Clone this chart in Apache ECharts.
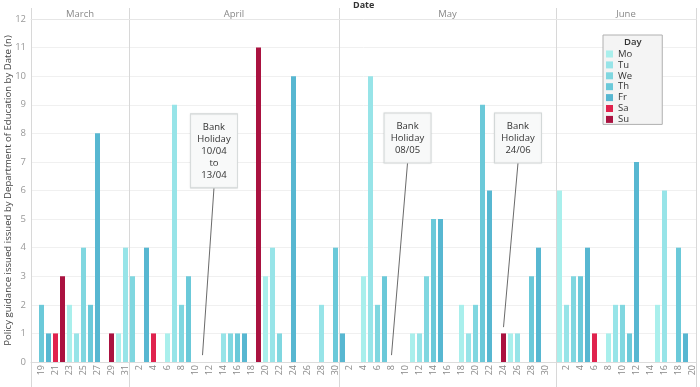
<!DOCTYPE html>
<html><head><meta charset="utf-8">
<script src="https://cdn.jsdelivr.net/npm/echarts@6/dist/echarts.min.js"></script>
<style>html,body{margin:0;padding:0;background:#fff}#c{width:700px;height:387px}</style>
</head><body><div id="c"></div>
<script>
// ---- data ----
const year = 2020;
const monthNames = ['March', 'April', 'May', 'June'];
const monthNumbers = [3, 4, 5, 6];
const monthFirstDay = [18, 1, 1, 1];
// counts per day (0 = no guidance issued)
const marchCounts = [0, 2, 1, 1, 3, 2, 1, 4, 2, 8, 0, 1, 1, 4];                       // 18..31
const aprilCounts = [3, 0, 4, 1, 0, 1, 9, 2, 3, 0, 0, 0, 0, 1, 1, 1, 1, 0, 11, 3,
                     4, 1, 0, 10, 0, 0, 0, 2, 0, 4];                                     // 1..30
const mayCounts   = [1, 0, 0, 3, 10, 2, 3, 0, 0, 0, 1, 1, 3, 5, 5, 0, 0, 2, 1, 2,
                     9, 6, 0, 1, 1, 1, 0, 3, 4, 0, 0];                                   // 1..31
const juneCounts  = [6, 2, 3, 3, 4, 1, 0, 1, 2, 2, 1, 7, 0, 0, 2, 6, 0, 4, 1, 0];     // 1..20
const dayNames = ['Mo', 'Tu', 'We', 'Th', 'Fr', 'Sa', 'Su'];
const dayColors = ['#a9efec', '#97e4e8', '#80d7e0', '#6bc9d9', '#57b7d1', '#e0234e', '#aa1240'];
const annotations = [
  { text: 'Bank\nHoliday\n10/04\nto\n13/04', date: '2020-04-11' },
  { text: 'Bank\nHoliday\n08/05', date: '2020-05-08' },
  { text: 'Bank\nHoliday\n24/06', date: '2020-05-24' }
];
// annotation placement (styling): box bottom anchor in plot units, line end height, box size
const annotationLayout = [
  { anchor: [26.14, 6.09], endY: 0.24, size: [47, 74] },
  { anchor: [53.79, 6.96], endY: 0.24, size: [47, 50] },
  { anchor: [69.57, 6.96], endY: 1.22, size: [47, 50] }
];

// ---- build ----
const allCounts = [marchCounts, aprilCounts, mayCounts, juneCounts];
const cats = [], meta = [], boundaries = [0], centers = [];
allCounts.forEach((arr, mi) => {
  arr.forEach((v, k) => {
    const d = monthFirstDay[mi] + k, m = monthNumbers[mi];
    cats.push(year + '-' + String(m).padStart(2, '0') + '-' + String(d).padStart(2, '0'));
    const wd = (new Date(Date.UTC(year, m - 1, d)).getUTCDay() + 6) % 7;
    meta.push({ m, d, wd, v });
  });
  const prev = boundaries[boundaries.length - 1];
  boundaries.push(prev + arr.length);
  centers.push(prev + arr.length / 2);
});
const N = cats.length;

const barSeries = dayNames.map((name, di) => ({
  name, type: 'bar', stack: 'day', barWidth: 5,
  itemStyle: { color: dayColors[di] },
  data: meta.map(o => (o.wd === di && o.v > 0) ? o.v : '-')
}));

const annSeries = {
  type: 'scatter', xAxisIndex: 1, yAxisIndex: 0, data: [], silent: true,
  markPoint: {
    silent: true,
    data: annotations.map((a, i) => ({
      coord: annotationLayout[i].anchor,
      symbol: 'rect',
      symbolSize: annotationLayout[i].size,
      symbolOffset: [0, '-50%'],
      itemStyle: { color: '#f8f9f9', borderColor: '#d3d8d8', borderWidth: 1, shadowColor: 'rgba(0,0,0,0.08)', shadowBlur: 2 },
      label: { show: true, position: 'inside', formatter: a.text, color: '#333', fontSize: 9.5, lineHeight: 12, fontFamily: 'Open Sans' }
    }))
  },
  markLine: {
    silent: true, symbol: ['none', 'none'],
    lineStyle: { color: '#444', width: 0.8, type: 'solid' },
    label: { show: false },
    data: annotations.map((a, i) => {
      const idx = cats.indexOf(a.date) + 0.5;
      return [{ coord: [idx, annotationLayout[i].endY] }, { coord: annotationLayout[i].anchor }];
    })
  }
};

const chart = echarts.init(document.getElementById('c'), null, { renderer: 'canvas' });
chart.setOption({
  animation: false,
  textStyle: { fontFamily: 'Open Sans' },
  title: [
    { text: 'Date', left: 353, top: 1, padding: 0, textStyle: { fontSize: 9, fontWeight: 'bold', color: '#333' } },
    { text: 'Day', left: 624, top: 37, padding: 0, textStyle: { fontSize: 9.5, fontWeight: 600, color: '#333' }, z: 10 }
  ],
  legend: {
    data: dayNames, orient: 'vertical', left: 603, top: 35,
    itemWidth: 7, itemHeight: 7, itemGap: 0.9, icon: 'rect',
    padding: [14, 30, 0, 3], backgroundColor: '#f4f4f4', borderColor: '#b0b0b0', borderWidth: 1,
    textStyle: { fontSize: 9.5, color: '#333', lineHeight: 10 }, selectedMode: false
  },
  grid: { left: 31, right: 4, top: 19, bottom: 25, outerBoundsMode: 'none', containLabel: false },
  xAxis: [
    {
      type: 'category', data: cats, boundaryGap: true,
      axisLine: { show: true, lineStyle: { color: '#dcdcdc' } },
      axisTick: { show: false },
      axisLabel: {
        rotate: 90, fontSize: 9, color: '#888', margin: 3,
        interval: (i) => meta[i].m === 3 ? meta[i].d % 2 === 1 : meta[i].d % 2 === 0,
        formatter: (v, i) => String(meta[i].d)
      },
      splitLine: { show: false }
    },
    {
      type: 'value', position: 'top', min: 0, max: N,
      axisLine: { show: true, lineStyle: { color: '#e6e6e6' } },
      axisTick: { show: true, inside: false, length: 11, customValues: boundaries, lineStyle: { color: '#d8d8d8' } },
      axisLabel: { show: true, customValues: centers, margin: 0, fontSize: 9.5, color: '#888',
        formatter: (v) => monthNames[centers.indexOf(v)] },
      splitLine: { show: true, lineStyle: { color: '#d8d8d8' } }
    },
    {
      type: 'value', position: 'bottom', min: 0, max: N,
      axisLine: { show: false },
      axisTick: { show: true, inside: false, length: 25, customValues: boundaries, lineStyle: { color: '#d8d8d8' } },
      axisLabel: { show: false },
      splitLine: { show: false }
    }
  ],
  yAxis: {
    type: 'value', min: 0, max: 12, interval: 1,
    name: 'Policy guidance issued issued by Department of Education by Date (n)',
    nameLocation: 'middle', nameGap: 18, nameMoveOverlap: false,
    nameTextStyle: { fontSize: 9.6, color: '#444' },
    axisLine: { show: false }, axisTick: { show: false },
    axisLabel: { fontSize: 9.5, color: '#999', margin: 5 },
    splitLine: { show: true, lineStyle: { color: '#f0f0f0' } }
  },
  series: barSeries.concat([annSeries])
});
</script>
</body></html>
